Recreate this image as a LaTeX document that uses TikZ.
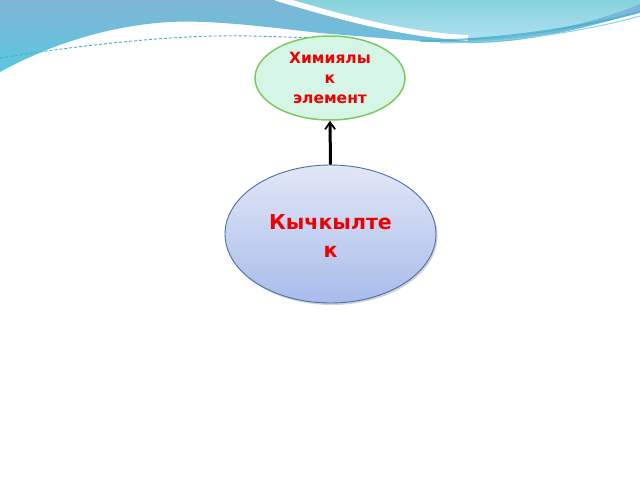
\documentclass[tikz,border=0pt]{standalone}
\usepackage{fontspec}
\setmainfont{DejaVu Sans}
\usetikzlibrary{arrows.meta,shadows,shapes.geometric}
\definecolor{wblue}{HTML}{80B6D6}
\definecolor{wblue2}{HTML}{5AC6DE}
\definecolor{wteal}{HTML}{86D3DC}
\definecolor{wteal2}{HTML}{AEE0EF}
\definecolor{ribbon}{HTML}{3FAFCB}
\definecolor{mint}{HTML}{D5F6E7}
\definecolor{mintborder}{HTML}{7DC95E}
\definecolor{lav}{HTML}{E2E7F6}
\definecolor{lavblue}{HTML}{A8BCEB}
\definecolor{lavborder}{HTML}{4673A6}
\definecolor{txtred}{HTML}{EE0000}
\tikzset{
  smallell/.style={ellipse, draw=mintborder, line width=1.5pt, fill=mint, minimum width=150pt, minimum height=84pt, inner sep=0pt},
  bigell/.style={ellipse, draw=lavborder, line width=0.9pt, top color=lav, bottom color=lavblue, minimum width=211pt, minimum height=138pt, inner sep=0pt, drop shadow={shadow xshift=1.5pt, shadow yshift=-2pt, opacity=0.35}},
  lbl/.style={text=txtred, font=\bfseries, align=center},
  link/.style={line width=3pt, -{Straight Barb[length=7pt,width=10pt,line width=1.8pt]}}
}
\begin{document}
\begin{tikzpicture}[x=1pt,y=-1pt]
\useasboundingbox (0,0) rectangle (640,480);
\fill[white] (0,0) rectangle (640,480);
% left blue wave
\shade[top color=wblue, bottom color=wblue2]
  (0,0) -- (640,0) -- (640,12)
  .. controls (580,30) and (520,44) .. (465,43)
  .. controls (420,42) and (370,37) .. (320,33)
  .. controls (260,26) and (210,20) .. (170,22)
  .. controls (100,26) and (40,50) .. (0,72) -- cycle;
% right teal wave
\shade[top color=wteal, bottom color=wteal2]
  (284,0) .. controls (340,18) and (400,36) .. (465,38)
  .. controls (540,38) and (600,20) .. (640,4) -- (640,0) -- cycle;
% white swoosh
\draw[white, line width=5.5pt] (276,-2) .. controls (340,17) and (400,34) .. (468,38);
% dark ribbon
\draw[ribbon, line width=2pt, opacity=0.7] (420,41) .. controls (500,40) and (580,28) .. (640,12);
\draw[ribbon!60, line width=1pt] (440,43) .. controls (520,42) and (590,30) .. (640,16);
% dashed line
\draw[ribbon, line width=0.9pt, dash pattern=on 3pt off 2pt]
  (0,58) .. controls (80,45) and (180,34) .. (250,36) .. controls (290,37) and (310,38) .. (330,38);
% nodes
\node[smallell] (elem) at (330,78) {};
\node[lbl, font=\bfseries\fontsize{15.5}{20}\selectfont] (elemtxt) at (330,78) {Химиялы\\к\\элемент};
\node[bigell] (oxy) at (330.5,234) {};
\node[lbl, font=\bfseries\fontsize{20.5}{28}\selectfont] (oxytxt) at (330.5,236) {Кычкылте\\к};
\draw[link] (oxy.north) -- (elem.south);
\end{tikzpicture}
\end{document}
